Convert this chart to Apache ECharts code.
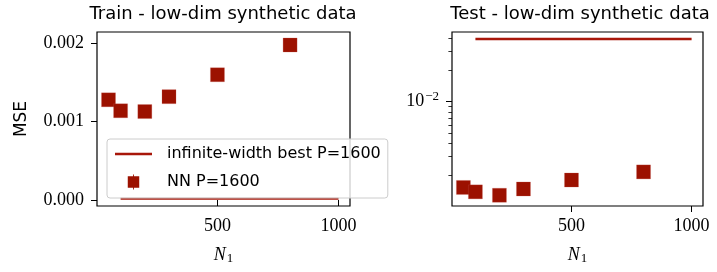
<!DOCTYPE html>
<html>
<head>
<meta charset="utf-8">
<script src="https://cdn.jsdelivr.net/npm/echarts@6/dist/echarts.min.js"></script>
<style>
  html, body { margin: 0; padding: 0; background: #fff; }
  #chart { width: 717px; height: 272px; }
</style>
</head>
<body>
<div id="chart"></div>
<script>
// widths N1
const n1 = [50, 100, 200, 300, 500, 800];
const trainNN = [0.00128, 0.00114, 0.00113, 0.00132, 0.00160, 0.00198];
const testNN = [0.00153, 0.00139, 0.00129, 0.00148, 0.00180, 0.00215];
// infinite-width best, flat from 100 to 1000
const infX = [100, 1000];
const trainInf = [0.00002, 0.00002];
const testInf = [0.0393, 0.0393];

const xTicks = [500, 1000];
const trainYTicks = [0, 0.001, 0.002];
const testMajor = [0.01];
const testMinor = [0.002, 0.003, 0.004, 0.005, 0.006, 0.007, 0.008, 0.009, 0.02, 0.03, 0.04];

const red = '#9c1100';
const lineRed = '#a8170a';
const serif = 'Liberation Serif';
const sans = 'DejaVu Sans';

const chart = echarts.init(document.getElementById('chart'));

function xAxisFor(grid) {
  return {
    type: 'value', gridIndex: grid, min: 2.5, max: 1047.5,
    name: '{i|N}{s|1}', nameLocation: 'middle', nameGap: 39,
    nameTextStyle: {
      rich: {
        i: { fontFamily: serif, fontStyle: 'italic', fontSize: 18, color: '#000' },
        s: { fontFamily: serif, fontSize: 13, color: '#000', padding: [7, 0, 0, 1] }
      }
    },
    axisLine: { show: false },
    axisTick: { show: true, customValues: xTicks, length: 6, lineStyle: { color: '#000', width: 1 } },
    axisLabel: { customValues: xTicks, fontFamily: serif, fontSize: 18, color: '#000', margin: 11,
      formatter: v => String(v) },
    splitLine: { show: false }
  };
}

chart.setOption({
  animation: false,
  title: [
    { text: 'Train - low-dim synthetic data', left: 218, top: 0, textAlign: 'center',
      textStyle: { fontFamily: sans, fontSize: 18, fontWeight: 'normal', color: '#000' } },
    { text: 'Test - low-dim synthetic data', left: 575, top: 0, textAlign: 'center',
      textStyle: { fontFamily: sans, fontSize: 18, fontWeight: 'normal', color: '#000' } }
  ],
  grid: [
    { left: 97, top: 32, width: 253, height: 174, show: true, borderColor: '#000', borderWidth: 1.2 },
    { left: 452, top: 32, width: 251, height: 174, show: true, borderColor: '#000', borderWidth: 1.2 }
  ],
  xAxis: [xAxisFor(0), xAxisFor(1)],
  yAxis: [
    {
      type: 'value', gridIndex: 0, min: -0.0000766, max: 0.002146,
      name: 'MSE', nameLocation: 'middle', nameGap: 67, nameRotate: 90,
      nameTextStyle: { fontFamily: sans, fontSize: 17, color: '#000' },
      axisLine: { show: false },
      axisTick: { show: true, customValues: trainYTicks, length: 6, lineStyle: { color: '#000', width: 1 } },
      axisLabel: { customValues: trainYTicks, fontFamily: serif, fontSize: 18, color: '#000', margin: 13,
        formatter: v => v.toFixed(3) },
      splitLine: { show: false }
    },
    {
      type: 'log', gridIndex: 1, position: 'left', min: 0.00102, max: 0.0458,
      axisLine: { show: false },
      axisTick: { show: true, customValues: testMajor, length: 6, lineStyle: { color: '#000', width: 1 } },
      axisLabel: { customValues: testMajor, color: '#000', margin: 13,
        formatter: () => '{b|10}{s|−2}',
        rich: {
          b: { fontFamily: serif, fontSize: 18, color: '#000' },
          s: { fontFamily: serif, fontSize: 13, color: '#000', padding: [0, 0, 10, 1] }
        } },
      splitLine: { show: false }
    },
    {
      type: 'log', gridIndex: 1, position: 'left', offset: 0, min: 0.00102, max: 0.0458,
      axisLine: { show: false },
      axisTick: { show: true, customValues: testMinor, length: 3.6, lineStyle: { color: '#000', width: 0.8 } },
      axisLabel: { show: false },
      splitLine: { show: false }
    }
  ],
  legend: {
    orient: 'vertical', left: 107, top: 139,
    padding: [7, 7, 8, 8], itemGap: 12, itemWidth: 37, itemHeight: 15,
    backgroundColor: 'rgba(255,255,255,0.8)', borderColor: '#cccccc', borderWidth: 1, borderRadius: 3,
    textStyle: { fontFamily: sans, fontSize: 16, color: '#000', padding: [0, 0, 0, 10] },
    data: [
      { name: 'infinite-width best P=1600', icon: 'path://M0,0H37V2.5H0Z',
        itemStyle: { color: lineRed, borderWidth: 0 } },
      { name: 'NN P=1600', icon: 'path://M0,2H13V15H0Z M6,0H7V17H6Z',
        itemStyle: { color: red, opacity: 1, borderWidth: 0 } }
    ]
  },
  series: [
    { name: 'infinite-width best P=1600', type: 'line', xAxisIndex: 0, yAxisIndex: 0,
      data: infX.map((x, i) => [x, trainInf[i]]), symbol: 'none',
      lineStyle: { color: lineRed, width: 2.5 }, itemStyle: { color: lineRed }, z: 2 },
    { name: 'NN P=1600', type: 'scatter', xAxisIndex: 0, yAxisIndex: 0,
      data: n1.map((x, i) => [x, trainNN[i]]), symbol: 'rect', symbolSize: 14,
      itemStyle: { color: red, opacity: 1, borderColor: 'rgba(200,90,80,0.5)', borderWidth: 0.5 }, z: 3 },
    { name: 'infinite-width best P=1600', type: 'line', xAxisIndex: 1, yAxisIndex: 1,
      data: infX.map((x, i) => [x, testInf[i]]), symbol: 'none',
      lineStyle: { color: lineRed, width: 2.5 }, itemStyle: { color: lineRed }, z: 2 },
    { name: 'NN P=1600', type: 'scatter', xAxisIndex: 1, yAxisIndex: 1,
      data: n1.map((x, i) => [x, testNN[i]]), symbol: 'rect', symbolSize: 14,
      itemStyle: { color: red, opacity: 1, borderColor: 'rgba(200,90,80,0.5)', borderWidth: 0.5 }, z: 3 }
  ]
});
</script>
</body>
</html>
